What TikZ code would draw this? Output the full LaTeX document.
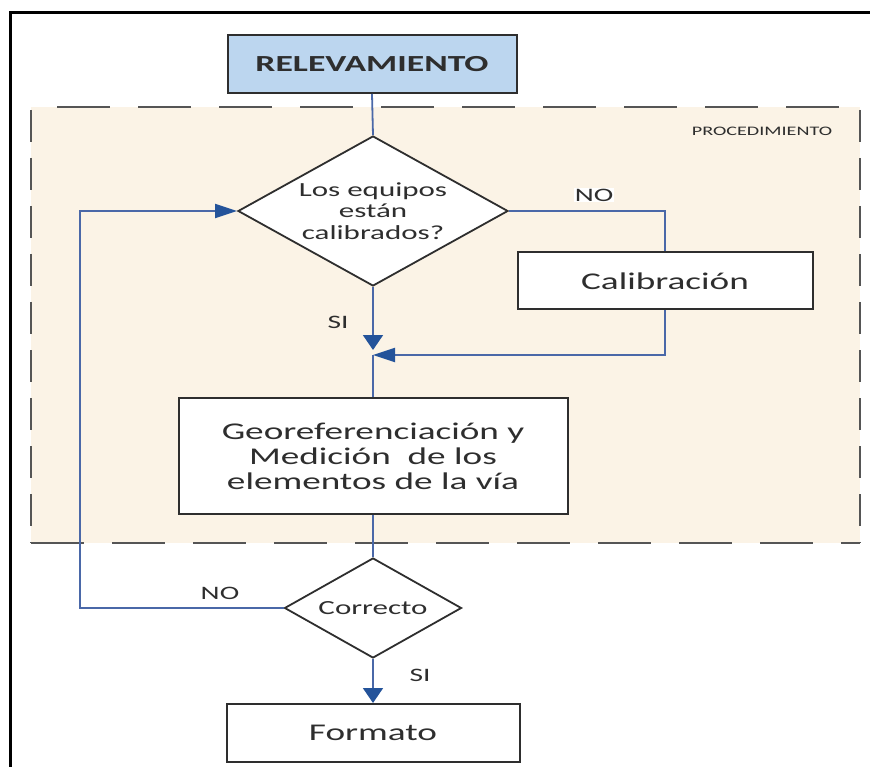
\documentclass[tikz,border=0pt]{standalone}
\usepackage{fontspec}
\setmainfont{Carlito}[FakeStretch=1.55]
\usetikzlibrary{shapes.geometric,arrows.meta}
\definecolor{flowblue}{HTML}{4A68A8}
\definecolor{tipblue}{HTML}{24539A}
\definecolor{cream}{HTML}{FBF3E6}
\definecolor{skyfill}{HTML}{BCD6EF}
\definecolor{inkgray}{HTML}{2E2E2E}
\definecolor{dashgray}{HTML}{555555}

\begin{document}
\begin{tikzpicture}[x=1pt,y=-1pt,
  box/.style={draw=inkgray,line width=2pt,fill=white,inner sep=0pt,text=inkgray,
    font=\fontsize{24}{25}\selectfont,align=center},
  choice/.style={diamond,draw=inkgray,line width=1.8pt,fill=white,inner sep=0pt,
    text=inkgray,align=center},
  flow/.style={draw=flowblue,line width=1.8pt},
  downtip/.style={-{Triangle[length=15pt,width=20pt,color=tipblue]}},
  sidetip/.style={-{Triangle[length=22pt,width=14pt,color=tipblue]}},
  lbl/.style={text=inkgray,font=\fontsize{19}{20}\selectfont,inner sep=1pt}]
\useasboundingbox (0,0) rectangle (870,767);

% frame and procedure area
\draw[line width=3pt] (10,13) rectangle (890,790);
\fill[cream] (31,107) rectangle (860,543);
\draw[dashgray,line width=2.5pt,dash pattern=on 53pt off 28pt,dash phase=55pt] (31,107) -- (860,107);
\draw[dashgray,line width=2.5pt,dash pattern=on 53pt off 28pt] (31,543) -- (860,543);
\draw[dashgray,line width=2.5pt,dash pattern=on 32pt off 16pt,dash phase=45pt] (31,107) -- (31,543);
\draw[dashgray,line width=2.5pt,dash pattern=on 32pt off 16pt,dash phase=45pt] (860,107) -- (860,543);
\node[text=inkgray,font=\fontsize{13}{14}\selectfont] (proc) at (762,131) {PROCEDIMIENTO};

% nodes
\node[box,fill=skyfill,minimum width=289pt,minimum height=58pt,font=\fontsize{23}{24}\selectfont\bfseries] (relev) at (372,64) {RELEVAMIENTO};
\node[choice,minimum width=270pt,minimum height=150pt,aspect=1.8,font=\fontsize{20}{21.5}\selectfont] (check) at (373,211) {Los equipos\\están\\calibrados?};
\node[box,minimum width=295pt,minimum height=57pt] (calib) at (665,281) {Calibración};
\coordinate (join) at (373,355);
\node[box,minimum width=389pt,minimum height=116pt] (geo) at (373,456) {Georeferenciación y\\Medición~ de los\\elementos de la vía};
\node[choice,minimum width=177pt,minimum height=100pt,aspect=1.77,font=\fontsize{20}{21}\selectfont] (ok) at (373,608) {Correcto};
\coordinate (back) at (80,608);
\node[box,minimum width=293pt,minimum height=58pt] (fmt) at (373,733) {Formato};

% connectors
\draw[flow] (relev.south) -- (check.north);
\draw[flow] (check.east) -| (calib.north);
\draw[flow,sidetip] (calib.south) |- (join);
\draw[flow,downtip,shorten >=5pt] (check.south) -- (join);
\draw[flow] (join) -- (geo.north);
\draw[flow] (geo.south) -- (ok.north);
\draw[flow,sidetip] (ok.west) -- (back) |- (check.west);
\draw[flow,downtip] (ok.south) -- (fmt.north);

% labels
\node[lbl,fill=white] (no1) at (594,195) {NO};
\node[lbl] (si1) at (338,322) {SI};
\node[lbl] (no2) at (220,593) {NO};
\node[lbl] (si2) at (420,675) {SI};
\end{tikzpicture}
\end{document}
